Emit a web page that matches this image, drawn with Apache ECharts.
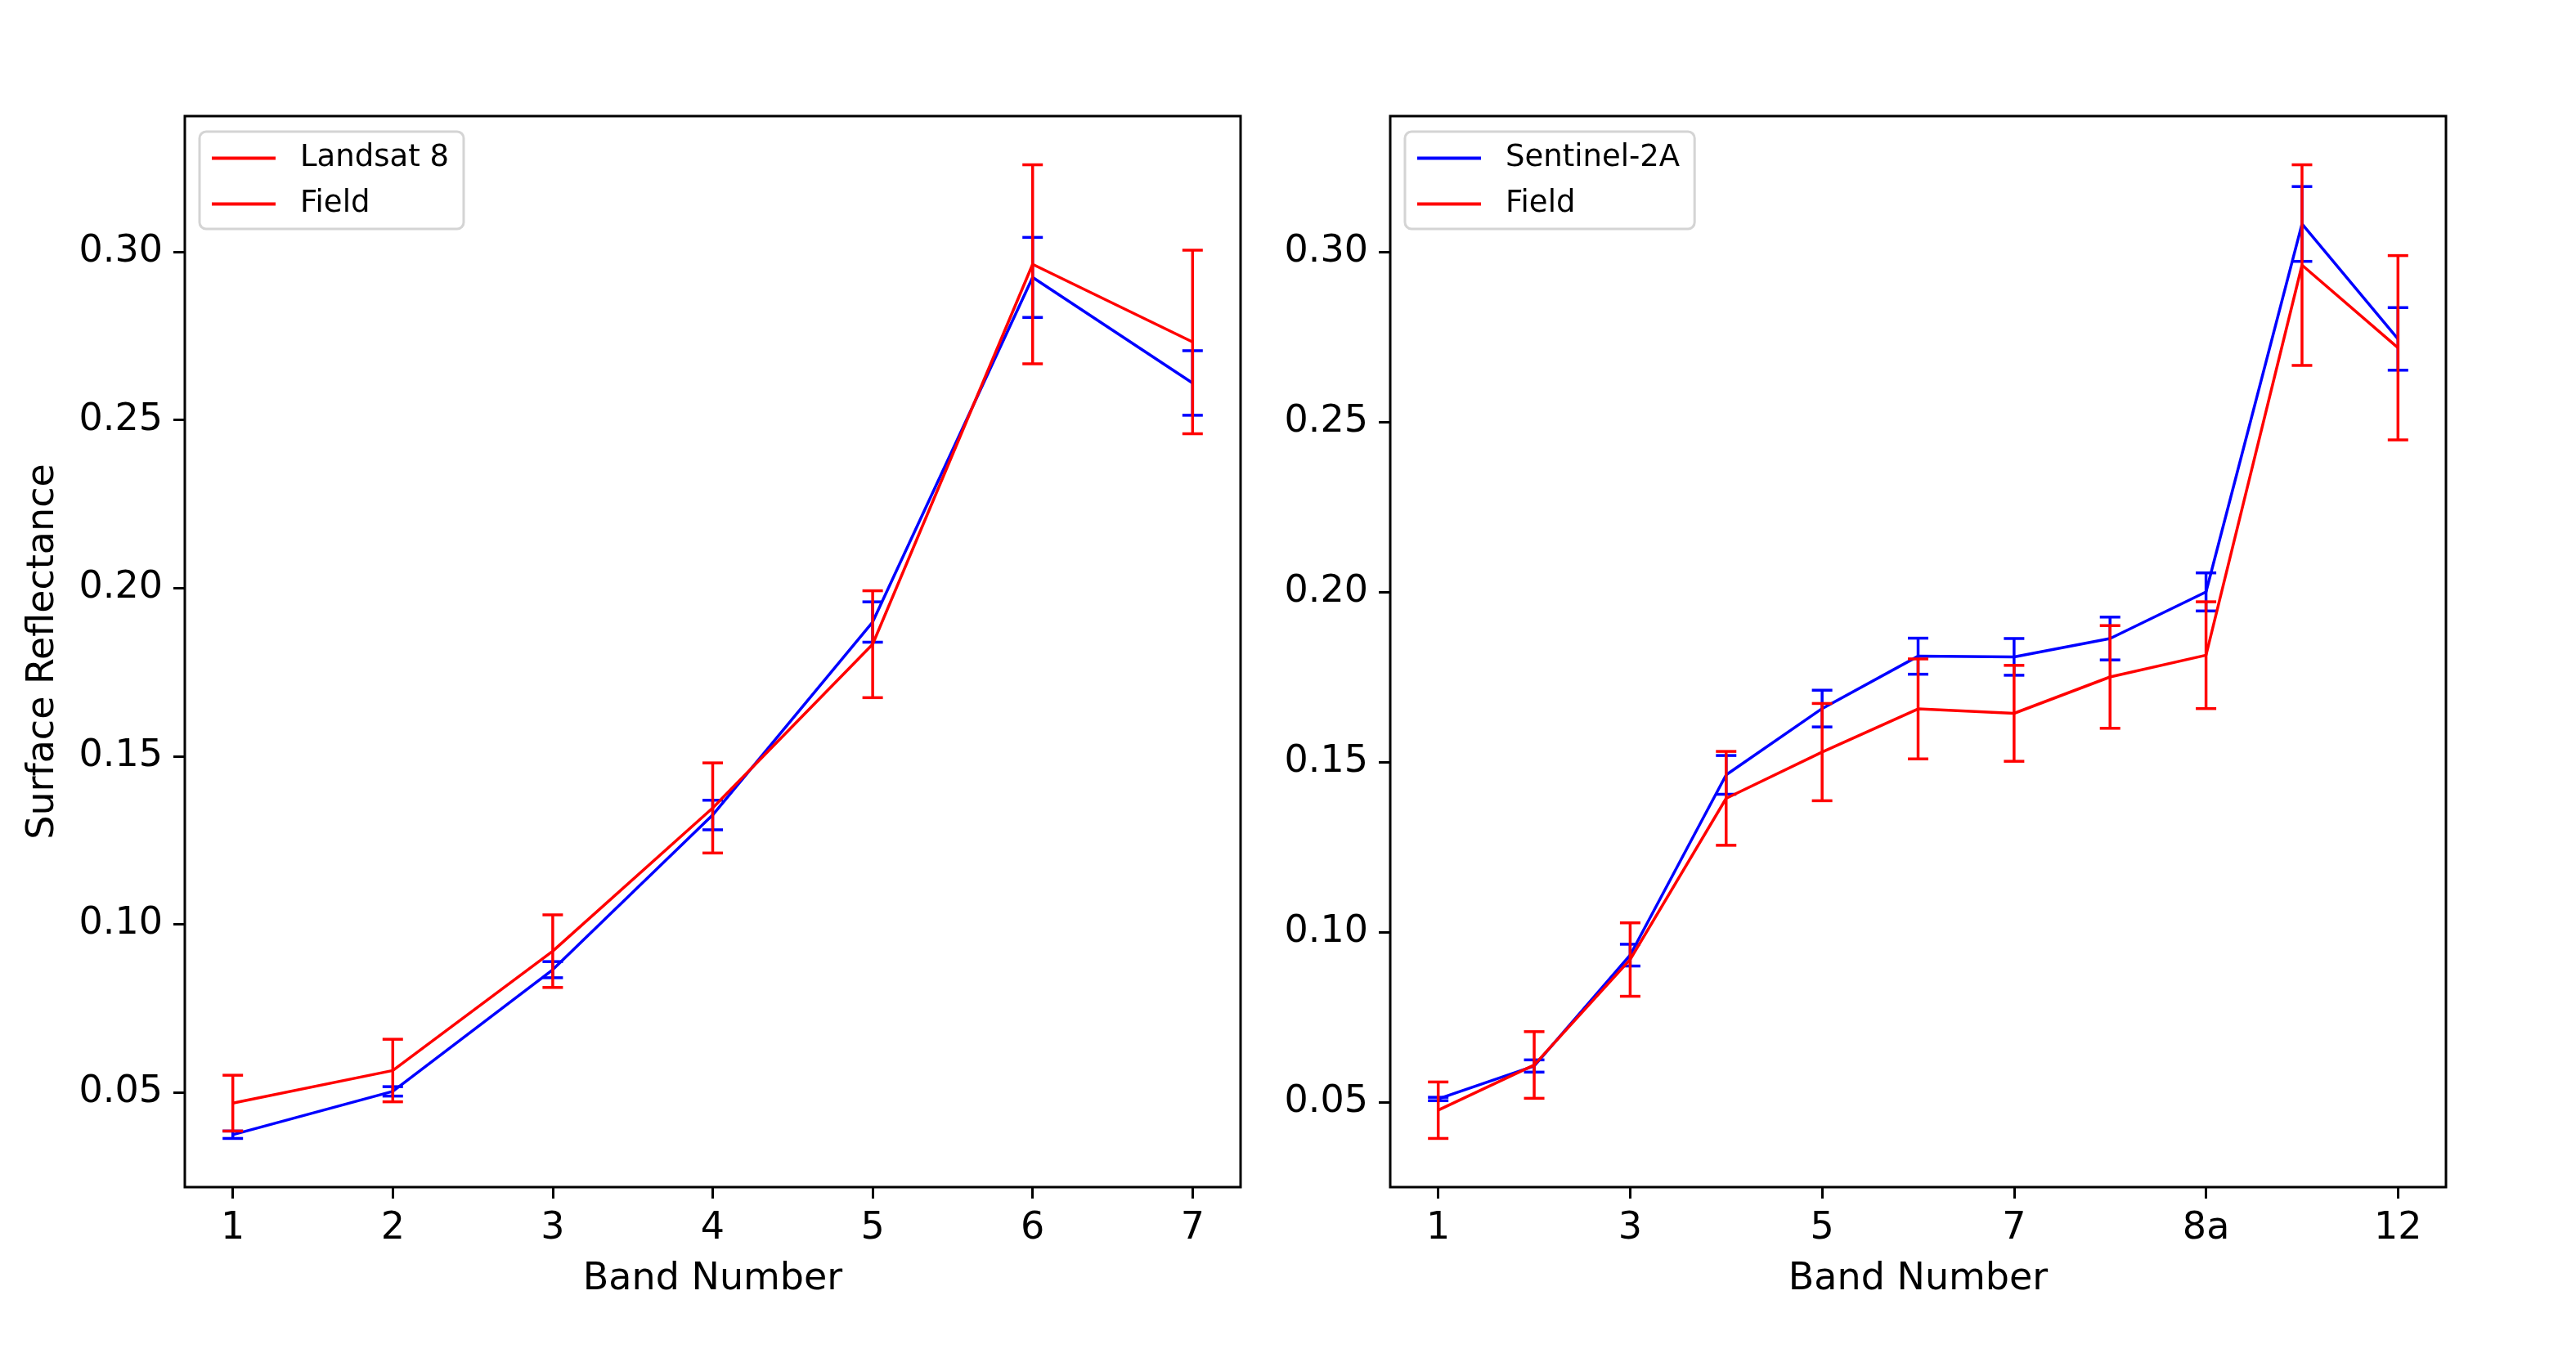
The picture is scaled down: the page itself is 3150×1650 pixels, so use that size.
<!DOCTYPE html>
<html>
<head>
  <meta charset="utf-8">
  <title>Surface Reflectance</title>
  <script src="https://cdn.jsdelivr.net/npm/echarts@6/dist/echarts.min.js"></script>
  <style>
    html, body { margin: 0; padding: 0; background: #fff; }
    #chart { width: 3150px; height: 1650px; }
  </style>
</head>
<body>
<div id="chart"></div>
<script>
  // ---- data ----
  // Landsat 8 panel
  var l8Bands = [1, 2, 3, 4, 5, 6, 7];
  var l8Mean = [0.0374, 0.0503, 0.0865, 0.1325, 0.1899, 0.2924, 0.2610];
  var l8Std = [0.0011, 0.0014, 0.0024, 0.0044, 0.0060, 0.0119, 0.0096];
  var l8FieldMean = [0.0468, 0.0565, 0.0920, 0.1346, 0.1833, 0.2963, 0.2732];
  var l8FieldStd = [0.0083, 0.0093, 0.0108, 0.0134, 0.0159, 0.0296, 0.0273];

  // Sentinel-2A panel
  var s2Bands = ['1', '2', '3', '4', '5', '6', '7', '8', '8a', '11', '12'];
  var s2Mean = [0.0509, 0.0606, 0.0932, 0.1462, 0.1657, 0.1811, 0.1809, 0.1863, 0.2000, 0.3082, 0.2744];
  var s2Std = [0.0005, 0.0018, 0.0032, 0.0057, 0.0054, 0.0053, 0.0054, 0.0063, 0.0056, 0.0110, 0.0092];
  var s2FieldMean = [0.0476, 0.0609, 0.0919, 0.1393, 0.1529, 0.1656, 0.1643, 0.1750, 0.1814, 0.2961, 0.2718];
  var s2FieldStd = [0.0083, 0.0098, 0.0108, 0.0138, 0.0143, 0.0147, 0.0141, 0.0151, 0.0157, 0.0295, 0.0271];
  var s2TickIdx = [0, 2, 4, 6, 8, 10];

  var yTicks = [0.05, 0.10, 0.15, 0.20, 0.25, 0.30];

  var BLUE = '#0000ff', RED = '#ff0000';
  var FONT = 'DejaVu Sans';

  function pts(xs, ys) {
    return ys.map(function (v, i) { return [xs[i], v]; });
  }
  function errs(xs, m, s) {
    return m.map(function (v, i) { return [xs[i], v - s[i], v + s[i]]; });
  }
  // matplotlib-like autoscale: 5% margin around data incl. error bars
  function yLim(list) {
    var lo = Infinity, hi = -Infinity;
    list.forEach(function (p) {
      p[0].forEach(function (v, i) {
        lo = Math.min(lo, v - p[1][i]);
        hi = Math.max(hi, v + p[1][i]);
      });
    });
    var pad = (hi - lo) * 0.05;
    return [lo - pad, hi + pad];
  }

  function errRender(color) {
    return function (params, api) {
      var x = api.value(0);
      var a = api.coord([x, api.value(1)]);
      var b = api.coord([x, api.value(2)]);
      var hw = 12.5;
      var st = { stroke: color, lineWidth: 3.5 };
      return {
        type: 'group',
        children: [
          { type: 'line', shape: { x1: a[0], y1: a[1], x2: b[0], y2: b[1] }, style: st },
          { type: 'line', shape: { x1: a[0] - hw, y1: a[1], x2: a[0] + hw, y2: a[1] }, style: st },
          { type: 'line', shape: { x1: b[0] - hw, y1: b[1], x2: b[0] + hw, y2: b[1] }, style: st }
        ]
      };
    };
  }

  var s2Idx = s2Bands.map(function (b, i) { return i; });
  var limL = yLim([[l8Mean, l8Std], [l8FieldMean, l8FieldStd]]);
  var limR = yLim([[s2Mean, s2Std], [s2FieldMean, s2FieldStd]]);

  var tickStyle = { show: true, inside: false, length: 14, lineStyle: { color: '#000', width: 3 } };
  var labelStyle = { color: '#000', fontFamily: FONT, fontSize: 46 };

  function xAxis(grid, min, max, ticks, fmt) {
    return {
      type: 'value', gridIndex: grid, min: min, max: max,
      name: 'Band Number', nameLocation: 'middle', nameGap: 90,
      nameTextStyle: { color: '#000', fontFamily: FONT, fontSize: 46 },
      axisLine: { show: false, onZero: false },
      splitLine: { show: false },
      axisTick: Object.assign({ customValues: ticks }, tickStyle),
      axisLabel: Object.assign({ customValues: ticks, margin: 28, formatter: fmt }, labelStyle)
    };
  }
  function yAxis(grid, lim, name) {
    return {
      type: 'value', gridIndex: grid, min: lim[0], max: lim[1],
      name: name, nameLocation: 'middle', nameGap: 150,
      nameTextStyle: { color: '#000', fontFamily: FONT, fontSize: 46 },
      axisLine: { show: false, onZero: false },
      splitLine: { show: false },
      axisTick: Object.assign({ customValues: yTicks }, tickStyle),
      axisLabel: Object.assign({
        customValues: yTicks, margin: 27,
        formatter: function (v) { return v.toFixed(2); }
      }, labelStyle)
    };
  }

  function lineSeries(name, x, y, data, color, z) {
    return {
      name: name, type: 'line', xAxisIndex: x, yAxisIndex: y, data: data,
      showSymbol: false, symbol: 'none', z: z,
      lineStyle: { color: color, width: 3.5 }, itemStyle: { color: color }
    };
  }
  function errSeries(name, x, y, data, color, z) {
    return {
      name: name, type: 'custom', xAxisIndex: x, yAxisIndex: y, data: data, z: z,
      encode: { x: 0, y: [1, 2] }, renderItem: errRender(color), itemStyle: { color: color }
    };
  }

  function legend(left, items) {
    return {
      left: left, top: 161, orient: 'vertical',
      icon: 'rect', itemWidth: 78, itemHeight: 4, itemGap: 19,
      padding: [14, 18, 12, 15],
      borderColor: '#d4d4d4', borderWidth: 3, borderRadius: 8,
      backgroundColor: 'rgba(255,255,255,0.8)',
      textStyle: { color: '#000', fontFamily: FONT, fontSize: 37, padding: [0, 0, 0, 25] },
      selectedMode: false,
      data: items
    };
  }

  var chart = echarts.init(document.getElementById('chart'));
  var option = {
    animation: false,
    backgroundColor: '#fff',
    grid: [
      { left: 226, top: 142, width: 1291, height: 1310, show: true, borderColor: '#000', borderWidth: 3 },
      { left: 1700, top: 142, width: 1291, height: 1310, show: true, borderColor: '#000', borderWidth: 3 }
    ],
    xAxis: [
      xAxis(0, 0.7, 7.3, l8Bands, function (v) { return String(v); }),
      xAxis(1, -0.5, 10.5, s2TickIdx, function (v) { return s2Bands[Math.round(v)]; })
    ],
    yAxis: [
      yAxis(0, limL, 'Surface Reflectance'),
      yAxis(1, limR, '')
    ],
    legend: [
      legend(244, [
        { name: 'Landsat 8', itemStyle: { color: RED } },
        { name: 'Field', itemStyle: { color: RED } }
      ]),
      legend(1718, [
        { name: 'Sentinel-2A', itemStyle: { color: BLUE } },
        { name: 'Field ', itemStyle: { color: RED } }
      ])
    ],
    series: [
      lineSeries('Landsat 8', 0, 0, pts(l8Bands, l8Mean), BLUE, 2),
      errSeries('Landsat 8 err', 0, 0, errs(l8Bands, l8Mean, l8Std), BLUE, 3),
      lineSeries('Field', 0, 0, pts(l8Bands, l8FieldMean), RED, 4),
      errSeries('Field err', 0, 0, errs(l8Bands, l8FieldMean, l8FieldStd), RED, 5),

      lineSeries('Sentinel-2A', 1, 1, pts(s2Idx, s2Mean), BLUE, 2),
      errSeries('Sentinel-2A err', 1, 1, errs(s2Idx, s2Mean, s2Std), BLUE, 3),
      lineSeries('Field ', 1, 1, pts(s2Idx, s2FieldMean), RED, 4),
      errSeries('Field err ', 1, 1, errs(s2Idx, s2FieldMean, s2FieldStd), RED, 5)
    ]
  };
  chart.setOption(option);
</script>
</body>
</html>
